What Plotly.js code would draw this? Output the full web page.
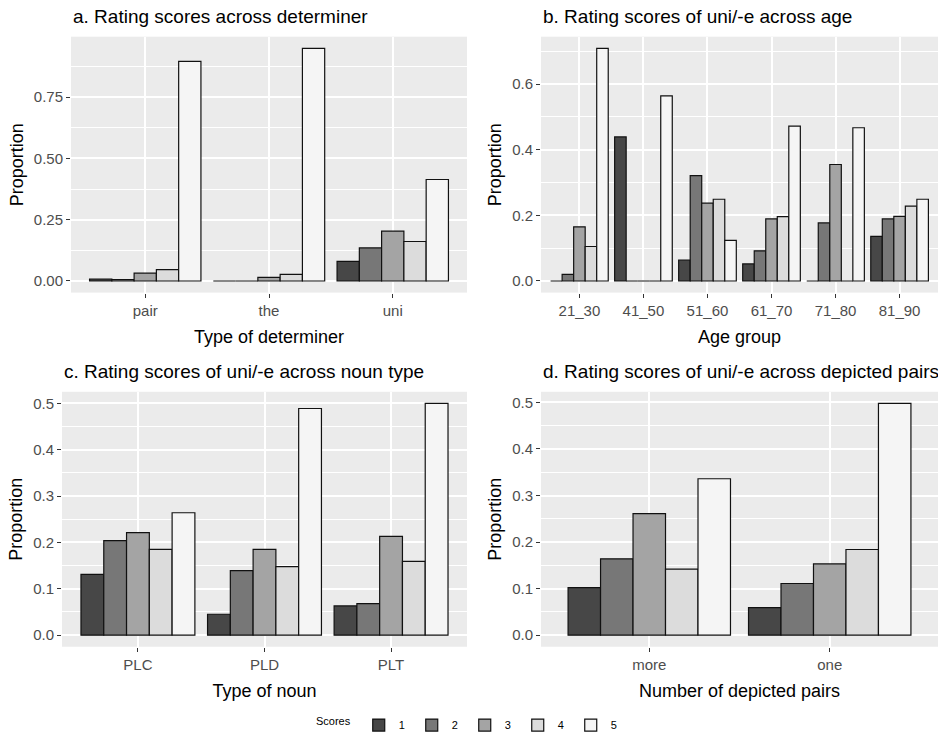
<!DOCTYPE html>
<html><head><meta charset="utf-8">
<script src="https://cdn.plot.ly/plotly-3.0.1.min.js"></script>
<style>html,body{margin:0;padding:0;background:#fff}#chart{width:938px;height:740px}</style>
</head><body><div id="chart"></div>
<script>
// ---- data ----
const scores = ['1', '2', '3', '4', '5'];
const scoreColors = ['#474747', '#777777', '#a4a4a4', '#dcdcdc', '#f5f5f5'];

// panel a: rows = scores 1..5, columns = categories
const detCategories = ['pair', 'the', 'uni'];
const detProps = [
  [0.008, 0.000, 0.080],
  [0.006, 0.000, 0.135],
  [0.032, 0.015, 0.203],
  [0.046, 0.027, 0.161],
  [0.896, 0.949, 0.414]
];

// panel b
const ageCategories = ['21_30', '41_50', '51_60', '61_70', '71_80', '81_90'];
const ageProps = [
  [0.000, 0.439, 0.064, 0.052, 0.000, 0.136],
  [0.020, 0.000, 0.321, 0.092, 0.177, 0.189],
  [0.165, 0.000, 0.237, 0.189, 0.355, 0.197],
  [0.105, 0.000, 0.249, 0.196, 0.000, 0.228],
  [0.709, 0.564, 0.124, 0.472, 0.467, 0.249]
];

// panel c
const nounCategories = ['PLC', 'PLD', 'PLT'];
const nounProps = [
  [0.131, 0.045, 0.063],
  [0.204, 0.139, 0.068],
  [0.221, 0.185, 0.213],
  [0.185, 0.148, 0.159],
  [0.264, 0.489, 0.500]
];

// panel d
const pairCategories = ['more', 'one'];
const pairProps = [
  [0.102, 0.059],
  [0.164, 0.111],
  [0.261, 0.153],
  [0.142, 0.184],
  [0.336, 0.498]
];

const panelTitles = [
  'a. Rating scores across determiner',
  'b. Rating scores of uni/-e across age',
  'c. Rating scores of uni/-e across noun type',
  'd. Rating scores of uni/-e across depicted pairs'
];
const xTitles = ['Type of determiner', 'Age group', 'Type of noun', 'Number of depicted pairs'];
const yTitle = 'Proportion';
const yTickStep = [0.25, 0.2, 0.1, 0.1];
const yTickFormat = ['.2f', '.1f', '.1f', '.1f'];

// ---- build ----
const FONT = 'Liberation Sans, Arial, sans-serif';
const W = 938, H = 740;
const panels = [
  {cats: detCategories, vals: detProps, px: [71, 467], py: [37, 295]},
  {cats: ageCategories, vals: ageProps, px: [541, 938], py: [37, 295]},
  {cats: nounCategories, vals: nounProps, px: [62, 467], py: [395, 652]},
  {cats: pairCategories, vals: pairProps, px: [541, 938], py: [395, 652]}
];

const traces = [];
const layout = {
  width: W, height: H,
  margin: {l: 0, r: 0, t: 0, b: 0},
  paper_bgcolor: '#ffffff',
  plot_bgcolor: '#ebebeb',
  barmode: 'group', bargap: 0.1, bargroupgap: 0,
  font: {family: FONT, color: '#000000'},
  showlegend: true,
  legend: {
    orientation: 'h', x: 0.5, xanchor: 'center', y: 1 - 731 / H, yanchor: 'middle',
    font: {family: FONT, size: 11, color: '#000'},
    title: {text: 'Scores', side: 'left', font: {family: FONT, size: 11, color: '#000'}},
    itemwidth: 30, entrywidth: 8, entrywidthmode: 'pixels',
    traceorder: 'normal', bgcolor: 'rgba(0,0,0,0)'
  },
  annotations: []
};

panels.forEach((p, i) => {
  const n = i + 1;
  const xa = 'x' + (n === 1 ? '' : n), ya = 'y' + (n === 1 ? '' : n);
  const xk = 'xaxis' + (n === 1 ? '' : n), yk = 'yaxis' + (n === 1 ? '' : n);
  p.vals.forEach((row, s) => {
    traces.push({
      type: 'bar', x: p.cats, y: row, xaxis: xa, yaxis: ya,
      name: scores[s], legendgroup: scores[s], showlegend: i === 0,
      marker: {color: scoreColors[s], line: {color: '#111111', width: 1.2}},
      hoverinfo: 'x+y+name'
    });
  });
  let maxV = 0;
  p.vals.forEach(r => r.forEach(v => { if (v > maxV) maxV = v; }));
  const pad = maxV * 0.05;
  layout[xk] = {
    domain: [p.px[0] / W, p.px[1] / W],
    anchor: ya, type: 'category', range: [-0.6, p.cats.length - 0.4],
    showgrid: true, gridcolor: '#ffffff', gridwidth: 1.6,
    ticks: 'outside', ticklen: 4, tickcolor: '#333333', tickwidth: 1,
    tickfont: {family: FONT, size: 15, color: '#4d4d4d'},
    showline: false, zeroline: false,
    title: {text: xTitles[i], font: {family: FONT, size: 18, color: '#000'}, standoff: 12}
  };
  layout[yk] = {
    domain: [1 - p.py[1] / H, 1 - p.py[0] / H],
    anchor: xa, range: [-pad, maxV + pad],
    dtick: yTickStep[i], tick0: 0, tickformat: yTickFormat[i],
    showgrid: true, gridcolor: '#ffffff', gridwidth: 1.6,
    minor: {dtick: yTickStep[i] / 2, tick0: 0, showgrid: true, gridcolor: '#ffffff', gridwidth: 0.8},
    ticks: 'outside', ticklen: 4, tickcolor: '#333333', tickwidth: 1,
    tickfont: {family: FONT, size: 15, color: '#4d4d4d'},
    showline: false, zeroline: false,
    title: {text: yTitle, font: {family: FONT, size: 18, color: '#000'}, standoff: 5}
  };
  layout.annotations.push({
    text: panelTitles[i], xref: 'paper', yref: 'paper',
    x: p.px[0] / W, xanchor: 'left',
    y: 1 - (p.py[0] - 8) / H, yanchor: 'bottom',
    showarrow: false, font: {family: FONT, size: 19, color: '#000'}
  });
});

Plotly.newPlot('chart', traces, layout, {displayModeBar: false, responsive: false});
</script>
</body></html>
